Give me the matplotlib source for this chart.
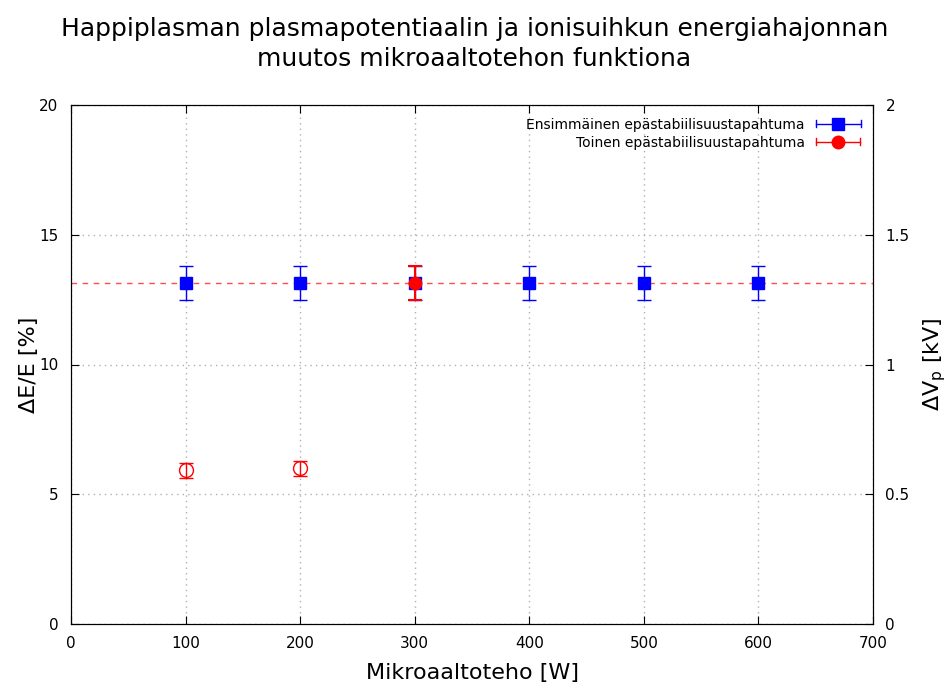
import numpy as np
import matplotlib.pyplot as plt
from matplotlib.legend_handler import HandlerBase
from matplotlib.lines import Line2D

plt.rcParams['font.family'] = ['DejaVu Sans']

# ensimmäinen epästabiilisuus (kaikki tehot)
teho1 = [100, 200, 300, 400, 500, 600]
dE1 = [13.15, 13.15, 13.15, 13.15, 13.15, 13.15]
err1 = [0.66, 0.66, 0.66, 0.66, 0.66, 0.66]

# toinen epästabiilisuus
teho2 = [300]
dE2 = [13.15]
err2 = [0.66]

# toinen, avoimet pisteet
teho3 = [100, 200]
dE3 = [5.93, 6.0]
err3 = [0.29, 0.3]

taso = 13.15


class VirhePalkki(HandlerBase):
    # gnuplot-tyylinen selitteen näyte: vaakaviiva, päätyviivat ja merkki keskellä
    def __init__(self, color, marker):
        super().__init__()
        self.color = color
        self.marker = marker

    def create_artists(self, legend, orig_handle, xdescent, ydescent,
                       width, height, fontsize, trans):
        y = height / 2 - ydescent
        x0, x1 = -xdescent, width - xdescent
        c = height * 0.35
        viiva = Line2D([x0, x1], [y, y], color=self.color, lw=1, transform=trans)
        v1 = Line2D([x0, x0], [y - c, y + c], color=self.color, lw=1, transform=trans)
        v2 = Line2D([x1, x1], [y - c, y + c], color=self.color, lw=1, transform=trans)
        m = Line2D([(x0 + x1) / 2], [y], marker=self.marker, color=self.color,
                   ms=9, ls='none', transform=trans)
        return [viiva, v1, v2, m]


fig = plt.figure(figsize=(9.49, 6.84), dpi=100)
ax = fig.add_axes([71/949, 60/684, 802/949, 519/684])

ax.axhline(taso, color='red', ls=(0, (4, 4)), lw=1, alpha=0.7, zorder=2)
h1 = ax.errorbar(teho1, dE1, yerr=err1, fmt='s', color='blue', ms=9, capsize=5,
                 elinewidth=1, capthick=1, zorder=3,
                 label='Ensimmäinen epästabiilisuustapahtuma')
h2 = ax.errorbar(teho2, dE2, yerr=err2, fmt='o', color='red', ms=9, capsize=5,
                 elinewidth=1.5, capthick=1.5, zorder=4,
                 label='Toinen epästabiilisuustapahtuma')
ax.errorbar(teho3, dE3, yerr=err3, fmt='o', color='red', mfc='none', ms=10,
            capsize=5, elinewidth=1, capthick=1, zorder=4)

ax.set_xlim(0, 700)
ax.set_ylim(0, 20)
ax.set_xticks(np.arange(0, 701, 100))
ax.set_yticks(np.arange(0, 21, 5))
ax.grid(True, color='#b0b0b0', ls=(0, (1, 3)), lw=1)
ax.tick_params(direction='in', top=True, labelsize=11, length=6, pad=9)
ax.set_xlabel('Mikroaaltoteho [W]', fontsize=16, labelpad=8)
ax.set_ylabel('ΔE/E [%]', fontsize=16, labelpad=0)

ax2 = ax.twinx()
ax2.set_ylim(0, 2)
ax2.set_yticks([0, 0.5, 1, 1.5, 2])
ax2.set_yticklabels(['0', '0.5', '1', '1.5', '2'])
ax2.tick_params(direction='in', labelsize=11, length=6, pad=9)
ax2.set_ylabel('ΔV$_\\mathregular{p}$ [kV]', fontsize=16, labelpad=8)

ax.legend([h1, h2], [h1.get_label(), h2.get_label()],
          handler_map={h1: VirhePalkki('blue', 's'), h2: VirhePalkki('red', 'o')},
          loc='upper right', frameon=False, markerfirst=False, fontsize=10,
          handlelength=3.2, handletextpad=0.8, borderaxespad=0.5, labelspacing=0.3)

fig.suptitle('Happiplasman plasmapotentiaalin ja ionisuihkun energiahajonnan\n'
             'muutos mikroaaltotehon funktiona', fontsize=18, y=0.975,
             linespacing=1.3)

fig.savefig('out.png', dpi=100)
